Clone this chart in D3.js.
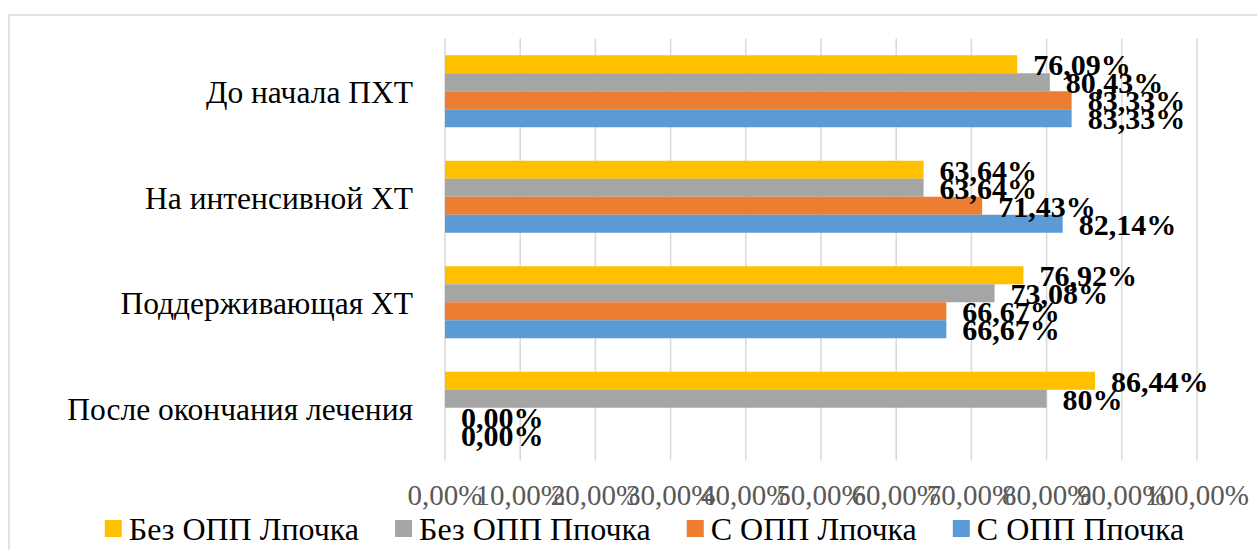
<!DOCTYPE html>
<html><head><meta charset="utf-8">
<script src="https://cdn.jsdelivr.net/npm/d3@7"></script>
<style>html,body{margin:0;padding:0;background:#fff;overflow:hidden}</style>
</head><body>
<svg id="c" width="1257" height="550"></svg>
<script>
const categories = ["До начала ПХТ", "На интенсивной ХТ", "Поддерживающая ХТ", "После окончания лечения"];
const seriesNames = ["Без ОПП Лпочка", "Без ОПП Ппочка", "С ОПП Лпочка", "С ОПП Ппочка"];
const seriesColors = ["#FFC000", "#A5A5A5", "#ED7D31", "#5B9BD5"];
const bezLpochka = [76.09, 63.64, 76.92, 86.44];
const bezPpochka = [80.43, 63.64, 73.08, 80];
const sLpochka   = [83.33, 71.43, 66.67, 0];
const sPpochka   = [83.33, 82.14, 66.67, 0];
const labelsBezL = ["76,09%", "63,64%", "76,92%", "86,44%"];
const labelsBezP = ["80,43%", "63,64%", "73,08%", "80%"];
const labelsSL   = ["83,33%", "71,43%", "66,67%", "0,00%"];
const labelsSP   = ["83,33%", "82,14%", "66,67%", "0,00%"];
const tickValues = [0,10,20,30,40,50,60,70,80,90,100];
const tickLabels = ["0,00%","10,00%","20,00%","30,00%","40,00%","50,00%","60,00%","70,00%","80,00%","90,00%","100,00%"];

const seriesValues = [bezLpochka, bezPpochka, sLpochka, sPpochka];
const seriesLabels = [labelsBezL, labelsBezP, labelsSL, labelsSP];

const svg = d3.select("#c");
const serif = "'Liberation Serif','Times New Roman',serif";

// chart frame
svg.append("rect").attr("x",9).attr("y",15).attr("width",1275).attr("height",560)
  .attr("fill","#fff").attr("stroke","#d9d9d9").attr("stroke-width",1.5);

const x = d3.scaleLinear().domain([0,100]).range([445,1197]);
const y = d3.scaleBand().domain(categories).range([38.5,460.5]).paddingInner(0.3175).paddingOuter(0.15875);
const ys = d3.scaleBand().domain(seriesNames).range([0,y.bandwidth()]);

// gridlines
svg.append("g").selectAll("line").data(tickValues).join("line")
  .attr("x1",d=>x(d)).attr("x2",d=>x(d)).attr("y1",38.5).attr("y2",460.5)
  .attr("stroke","#d9d9d9").attr("stroke-width",1.5);

// tick labels
svg.append("g").selectAll("text").data(tickValues).join("text")
  .attr("x",d=>x(d)).attr("y",505).attr("text-anchor","middle")
  .attr("font-family",serif).attr("font-size",29).attr("fill","#595959")
  .text((d,i)=>tickLabels[i]);

// category labels
svg.append("g").selectAll("text").data(categories).join("text")
  .attr("x",413).attr("y",d=>y(d)+y.bandwidth()/2+12).attr("text-anchor","end")
  .attr("font-family",serif).attr("font-size",31.5).attr("fill","#000")
  .text(d=>d);

// bars
const rows = [];
seriesNames.forEach((s,si)=>{
  categories.forEach((c,ci)=>{
    rows.push({s, si, c, v: seriesValues[si][ci], lab: seriesLabels[si][ci]});
  });
});
svg.append("g").selectAll("rect").data(rows).join("rect")
  .attr("x",x(0)).attr("y",d=>y(d.c)+ys(d.s))
  .attr("width",d=>x(d.v)-x(0)).attr("height",ys.bandwidth())
  .attr("fill",d=>seriesColors[d.si]);

// data labels
svg.append("g").selectAll("text").data(rows).join("text")
  .attr("x",d=>x(d.v)+16).attr("y",d=>y(d.c)+ys(d.s)+ys.bandwidth()/2+11)
  .attr("font-family",serif).attr("font-size",30).attr("font-weight","bold").attr("fill","#000")
  .text(d=>d.lab);

// legend
const lg = svg.append("g");
const items = lg.selectAll("g").data(seriesNames).join("g");
items.append("rect").attr("width",17).attr("height",17).attr("y",520).attr("fill",(d,i)=>seriesColors[i]);
items.append("text").attr("x",24).attr("y",540).attr("font-family",serif).attr("font-size",32).attr("fill","#000").text(d=>d);
let widths = [];
items.each(function(){ widths.push(24 + d3.select(this).select("text").node().getComputedTextLength()); });
const gap = 36;
const total = d3.sum(widths) + gap*(widths.length-1);
let cx = 644.5 - total/2;
items.each(function(d,i){ d3.select(this).attr("transform",`translate(${cx},0)`); cx += widths[i] + gap; });
</script>
</body></html>
